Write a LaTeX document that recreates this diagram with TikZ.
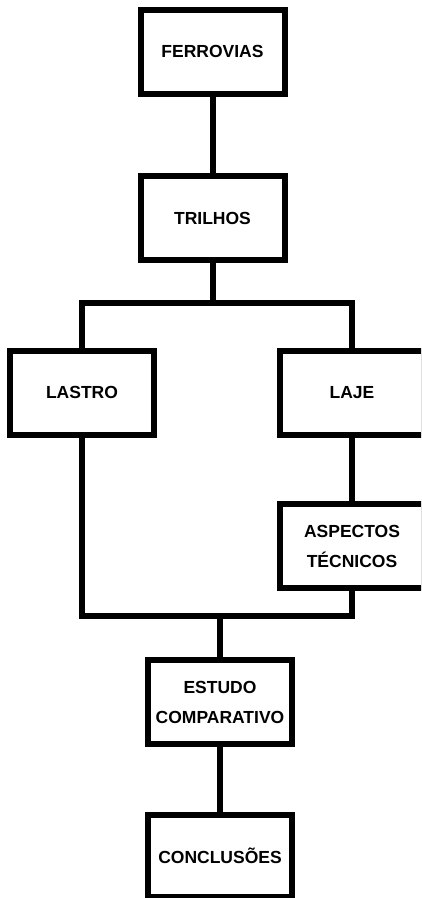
\documentclass[tikz,border=0pt]{standalone}
\usepackage{fontspec}
\setmainfont{Liberation Sans}
\usepackage{tikz}
\usetikzlibrary{positioning}

\begin{document}
\begin{tikzpicture}[
  x=1pt, y=-1pt,
  box/.style={draw, line width=6pt, align=center, minimum width=144pt,
              minimum height=84pt, inner sep=0pt,
              font=\fontsize{17.5}{30}\selectfont\bfseries},
  conn/.style={line width=6pt}]
  \useasboundingbox (0,0) rectangle (421,898);
  \clip (0,0) rectangle (421,898);
  \node[box] (ferrovias) at (212.5,51.5) {FERROVIAS};
  \node[box] (trilhos) at (212.5,218) {TRILHOS};
  \node[box] (lastro) at (82,392.5) {LASTRO};
  \node[box] (laje) at (352,392.5) {LAJE};
  \node[box] (aspectos) at (352,546) {ASPECTOS\\T\'ECNICOS};
  \node[box] (estudo) at (220,702) {ESTUDO\\COMPARATIVO};
  \node[box, minimum height=82pt] (conclusoes) at (220,856) {CONCLUS\~OES};
  \coordinate (split) at (212.5,303);
  \coordinate (merge) at (220,616);
  \draw[conn] (ferrovias) -- (trilhos);
  \draw[conn] (trilhos) -- (split);
  \draw[conn] (lastro.north) -- (lastro.north |- split) -- (laje.north |- split) -- (laje.north);
  \draw[conn] (laje) -- (aspectos);
  \draw[conn] (lastro.south) -- (lastro.south |- merge) -- (aspectos.south |- merge) -- (aspectos.south);
  \draw[conn] (merge) -- (estudo);
  \draw[conn] (estudo) -- (conclusoes);
\end{tikzpicture}
\end{document}
